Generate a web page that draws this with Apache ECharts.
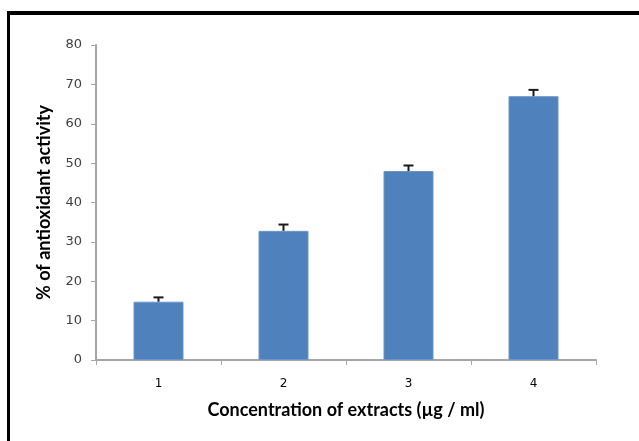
<!DOCTYPE html>
<html>
<head>
<meta charset="utf-8">
<script src="https://cdn.jsdelivr.net/npm/echarts@6/dist/echarts.min.js"></script>
<style>
  html, body { margin: 0; padding: 0; background: #ffffff; }
  #chart { width: 639px; height: 441px; }
</style>
</head>
<body>
<div id="chart"></div>
<script>
// Antioxidant activity at four extract concentrations, mean with upper error
const categories = ['1', '2', '3', '4'];
const activity = [14.8, 32.8, 48.0, 67.0];
const errorPlus = [1.1, 1.6, 1.4, 1.6];
const yTicks = [0, 10, 20, 30, 40, 50, 60, 70, 80];

const chart = echarts.init(document.getElementById('chart'), null, { renderer: 'canvas' });

const axisGray = '#a6a6a6';
const tickFont = 'DejaVu Sans';
const titleFont = 'Lato';

chart.setOption({
  animation: false,
  backgroundColor: '#ffffff',
  grid: { left: 96, right: 43, top: 45, bottom: 81, containLabel: false },
  xAxis: {
    type: 'category',
    data: categories,
    name: 'Concentration of extracts (µg / ml)',
    nameLocation: 'middle',
    nameGap: 41,
    nameTextStyle: { fontFamily: titleFont, fontWeight: 'bold', fontSize: 18, color: '#000000' },
    axisLine: { lineStyle: { color: axisGray, width: 2 } },
    axisTick: { show: true, length: 5, lineStyle: { color: axisGray, width: 1 } },
    axisLabel: { fontFamily: tickFont, fontSize: 12, color: '#000000', margin: 18 },
    splitLine: { show: false }
  },
  yAxis: {
    type: 'value',
    min: yTicks[0],
    max: yTicks[yTicks.length - 1],
    interval: yTicks[1] - yTicks[0],
    name: '% of antioxidant activity',
    nameLocation: 'middle',
    nameGap: 43,
    nameRotate: 90,
    nameTextStyle: { fontFamily: titleFont, fontWeight: 'bold', fontSize: 18, color: '#000000' },
    axisLine: { show: true, lineStyle: { color: axisGray, width: 2 } },
    axisTick: { show: true, length: 5, lineStyle: { color: axisGray, width: 1 } },
    axisLabel: { fontFamily: tickFont, fontSize: 13, color: '#404040', margin: 14 },
    splitLine: { show: false }
  },
  series: [
    {
      type: 'bar',
      data: activity,
      barWidth: '40%',
      itemStyle: { color: '#4f81bd', borderColor: '#6b95c8', borderWidth: 1 }
    },
    {
      // upper error whisker with a short cap
      type: 'custom',
      data: activity.map((v, i) => [i, v, v + errorPlus[i]]),
      z: 5,
      renderItem: function (params, api) {
        const i = api.value(0);
        const base = api.coord([i, api.value(1)]);
        const top = api.coord([i, api.value(2)]);
        const cap = 5;
        return {
          type: 'group',
          children: [
            { type: 'line', shape: { x1: base[0], y1: base[1], x2: top[0], y2: top[1] },
              style: { stroke: '#1a1a1a', lineWidth: 2 } },
            { type: 'line', shape: { x1: top[0] - cap, y1: top[1], x2: top[0] + cap, y2: top[1] },
              style: { stroke: '#1a1a1a', lineWidth: 2 } }
          ]
        };
      }
    }
  ],
  graphic: [
    // frame: top rule and left rule
    { type: 'rect', shape: { x: 7, y: 11, width: 632, height: 4 }, style: { fill: '#000000' } },
    { type: 'rect', shape: { x: 7, y: 11, width: 3, height: 430 }, style: { fill: '#000000' } }
  ]
});
</script>
</body>
</html>
